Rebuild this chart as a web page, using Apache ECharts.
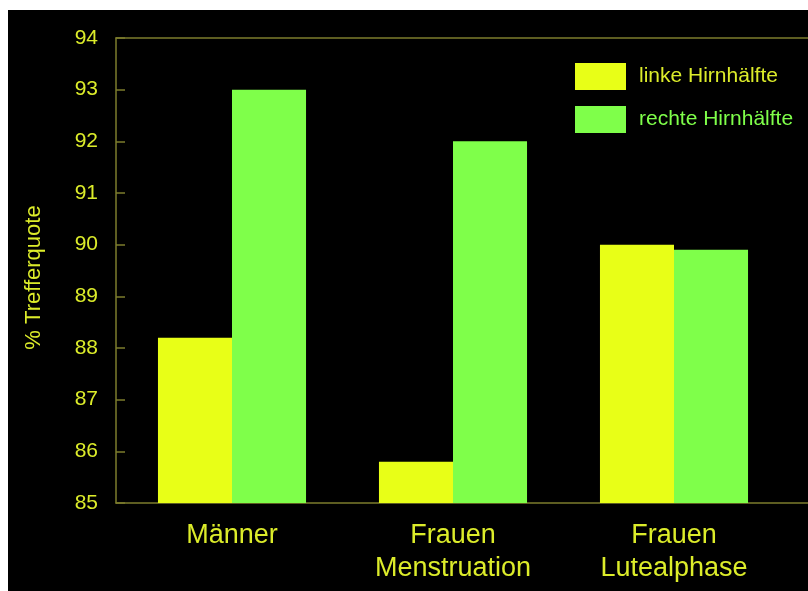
<!DOCTYPE html>
<html>
<head>
<meta charset="utf-8">
<script src="https://cdn.jsdelivr.net/npm/echarts@6/dist/echarts.min.js"></script>
<style>
html,body{margin:0;padding:0;background:#fff;width:808px;height:591px;overflow:hidden;}
#c{position:absolute;left:8px;top:10px;width:800px;height:581px;background:#000;}
</style>
</head>
<body>
<div id="c"></div>
<script>
var categories = ['Männer', 'Frauen\nMenstruation', 'Frauen\nLutealphase'];
var seriesNames = ['linke Hirnhälfte', 'rechte Hirnhälfte'];
var linke = [88.2, 85.8, 90.0];
var rechte = [93.0, 92.0, 89.9];
var yMin = 85, yMax = 94, yStep = 1;
var yAxisName = '% Trefferquote';

var YELLOW = '#e8ff17';
var GREEN = '#7fff4a';
var TEXT = '#dcec2a';
var AXIS = '#7c7c2c';
var FONT = 'Liberation Sans, Arial, sans-serif';

var chart = echarts.init(document.getElementById('c'), null, {renderer: 'canvas'});
chart.setOption({
  backgroundColor: '#000',
  animation: false,
  legend: {
    orient: 'vertical',
    left: 562, top: 48,
    icon: 'rect',
    itemWidth: 51, itemHeight: 27, itemGap: 16,
    data: seriesNames,
    formatter: function(n){ return n === seriesNames[0] ? '{a|' + n + '}' : '{b|' + n + '}'; },
    textStyle: {
      fontFamily: FONT, fontSize: 21,
      rich: {
        a: {color: TEXT, fontFamily: FONT, fontSize: 21, padding: [0,0,0,8]},
        b: {color: GREEN, fontFamily: FONT, fontSize: 21, padding: [0,0,0,8]}
      }
    }
  },
  grid: [
    {left: 108, right: 0, top: 28, bottom: 88},
    {left: 113.5, right: 23.5, top: 28, bottom: 88}
  ],
  xAxis: [
    {gridIndex: 0, type: 'value', position: 'bottom', min: 0, max: 1,
     axisLine: {show: true, lineStyle: {color: AXIS, width: 1.5}},
     axisTick: {show: false}, axisLabel: {show: false}, splitLine: {show: false}},
    {gridIndex: 0, type: 'value', position: 'top', min: 0, max: 1,
     axisLine: {show: true, lineStyle: {color: AXIS, width: 1.5}},
     axisTick: {show: false}, axisLabel: {show: false}, splitLine: {show: false}},
    {gridIndex: 1, type: 'category', data: categories,
     axisLine: {show: false}, axisTick: {show: false},
     axisLabel: {color: TEXT, fontFamily: FONT, fontSize: 27, lineHeight: 33, margin: 16, interval: 0}}
  ],
  yAxis: [
    {gridIndex: 0, type: 'value', min: 0, max: 1, show: false},
    {gridIndex: 1, type: 'value', min: yMin, max: yMax, interval: yStep, offset: 5.5,
     name: yAxisName, nameLocation: 'middle', nameGap: 71,
     nameTextStyle: {color: TEXT, fontFamily: FONT, fontSize: 22, padding: [0, 14, 0, 0]},
     axisLine: {show: true, lineStyle: {color: AXIS, width: 1.5}},
     axisTick: {show: true, inside: true, length: 9, lineStyle: {color: AXIS, width: 1.5}},
     axisLabel: {color: TEXT, fontFamily: FONT, fontSize: 21, margin: 18},
     splitLine: {show: false}}
  ],
  series: [
    {name: seriesNames[0], type: 'bar', xAxisIndex: 2, yAxisIndex: 1, data: linke,
     itemStyle: {color: YELLOW}, barGap: '0%', barCategoryGap: '33%'},
    {name: seriesNames[1], type: 'bar', xAxisIndex: 2, yAxisIndex: 1, data: rechte,
     itemStyle: {color: GREEN}, barGap: '0%', barCategoryGap: '33%'}
  ]
});
</script>
</body>
</html>
